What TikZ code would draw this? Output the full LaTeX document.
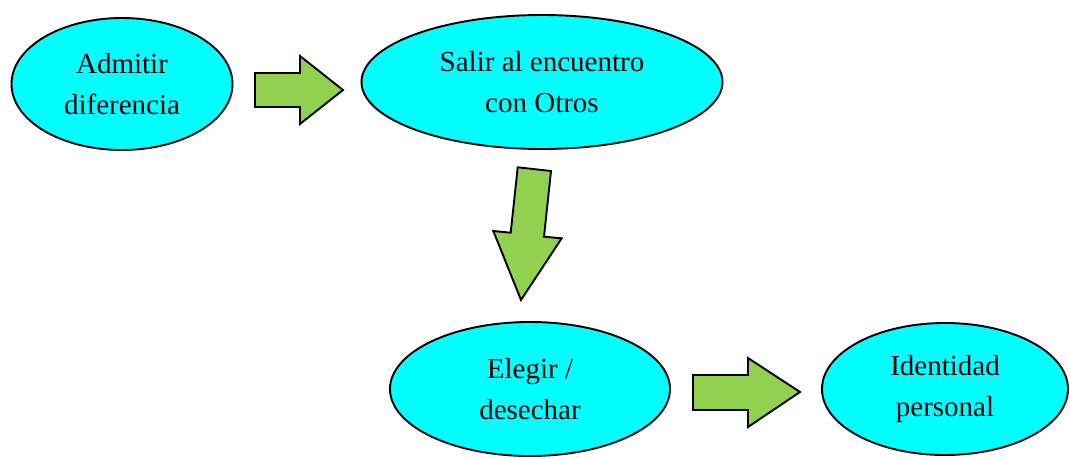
\documentclass[tikz,border=0pt]{standalone}
\usepackage{fontspec}
\setmainfont{Liberation Serif}
\usetikzlibrary{shapes.geometric}
\definecolor{cyanfill}{RGB}{0,255,255}
\definecolor{arrowgreen}{RGB}{146,208,80}
\begin{document}
\begin{tikzpicture}[x=1pt,y=-1pt,
  bubble/.style={ellipse, draw=black, line width=1.9pt, fill=cyanfill, inner sep=0pt, align=center,
    font=\fontsize{29}{41}\selectfont},
  blockarrow/.style={draw=black, line width=1.9pt, fill=arrowgreen, line join=miter}]
\useasboundingbox (0,0) rectangle (1070,458);
\node[bubble, minimum width=221pt, minimum height=132pt] (a) at (122,84) {Admitir\\diferencia};
\node[bubble, minimum width=361pt, minimum height=134pt] (b) at (542,82) {Salir al encuentro\\con Otros};
\node[bubble, minimum width=280pt, minimum height=134pt] (c) at (530,389) {Elegir /\\desechar};
\node[bubble, minimum width=246pt, minimum height=132pt] (d) at (945,389) {Identidad\\personal};
% right arrow 1
\draw[blockarrow] (255,73) -- (300,73) -- (300,56) -- (343,90) -- (300,124) -- (300,107) -- (255,107) -- cycle;
% down arrow
\draw[blockarrow] (517.7,167.3) -- (551,171) -- (544,236.7) -- (561.7,238.3) -- (521,300) -- (493.3,231) -- (510.7,232.7) -- cycle;
% right arrow 2
\draw[blockarrow] (693,375) -- (748,375) -- (748,358) -- (800,392) -- (748,427) -- (748,410) -- (693,410) -- cycle;
\end{tikzpicture}
\end{document}
